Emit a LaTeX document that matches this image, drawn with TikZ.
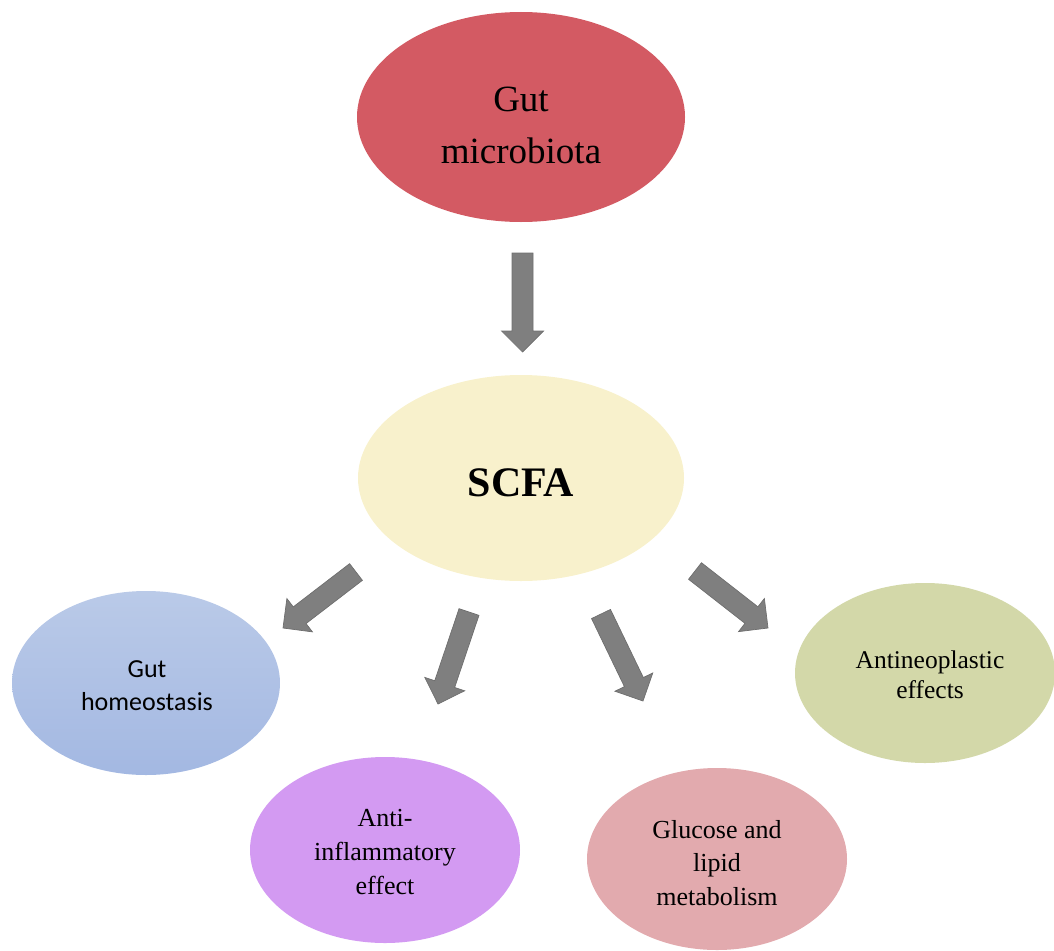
\documentclass[tikz,border=0pt]{standalone}
\usepackage{fontspec}
\setmainfont{Liberation Serif}
\newfontfamily\calibrifont{Carlito}
\usetikzlibrary{shapes.geometric,calc}
\definecolor{gmred}{HTML}{D35A63}
\definecolor{scfayel}{HTML}{F8F1CC}
\definecolor{ghtop}{HTML}{BACAE8}
\definecolor{ghbot}{HTML}{A3B8E2}
\definecolor{aipur}{HTML}{D39AF2}
\definecolor{glpink}{HTML}{E2AAAE}
\definecolor{anolive}{HTML}{D3D8A9}
\definecolor{arrfill}{HTML}{7F7F7F}
\definecolor{arrline}{HTML}{6E6E6E}
\newcommand\blockarr[2]{%
  \coordinate (hb) at ($(#2)!21pt!(#1)$);
  \filldraw[arrowstyle]
    ($(#1)!10.5pt!90:(#2)$) -- ($(hb)!10.5pt!90:(#2)$) -- ($(hb)!21pt!90:(#2)$)
    -- (#2) -- ($(hb)!21pt!-90:(#2)$) -- ($(hb)!10.5pt!-90:(#2)$)
    -- ($(#1)!10.5pt!-90:(#2)$) -- cycle;
}
\begin{document}
\begin{tikzpicture}[x=1pt,y=-1pt,
  ell/.style={ellipse, inner sep=0pt, draw=none},
  lbl/.style={align=center, inner sep=0pt, text=black},
  arrowstyle/.style={fill=arrfill, draw=arrline, line width=0.7pt, line join=miter}]
\useasboundingbox (0,0) rectangle (1054,950);

% ellipses
\node[ell, fill=gmred, minimum width=328pt, minimum height=210pt] (gm) at (521,117) {};
\node[ell, fill=scfayel, minimum width=326pt, minimum height=206pt] (scfa) at (521,478) {};
\node[ell, top color=ghtop, bottom color=ghbot, minimum width=268pt, minimum height=184pt] (gh) at (146,683) {};
\node[ell, fill=aipur, minimum width=270pt, minimum height=186pt] (ai) at (385,850) {};
\node[ell, fill=glpink, minimum width=260pt, minimum height=182pt] (gl) at (717,859) {};
\node[ell, fill=anolive, minimum width=260pt, minimum height=180pt] (an) at (925,673) {};

% labels
\node[lbl, font=\fontsize{37pt}{52pt}\selectfont] (gmt) at (521,125) {Gut\\microbiota};
\node[lbl, font=\fontsize{42pt}{50pt}\selectfont\bfseries] (scfat) at (521,483) {SCFA};
\node[lbl, font=\calibrifont\fontsize{26pt}{33pt}\selectfont] (ght) at (147,686) {Gut\\homeostasis};
\node[lbl, font=\fontsize{26pt}{34pt}\selectfont] (ait) at (385,852) {Anti-\\inflammatory\\effect};
\node[lbl, font=\fontsize{26pt}{33.5pt}\selectfont] (glt) at (717,863) {Glucose and\\lipid\\metabolism};
\node[lbl, font=\fontsize{25.5pt}{30pt}\selectfont] (ant) at (930,675) {Antineoplastic\\effects};

% arrow end points
\coordinate (a1s) at (522.5,253);
\coordinate (a1e) at (522.5,352);
\coordinate (a2s) at (356,572);
\coordinate (a2e) at (283,628);
\coordinate (a3s) at (469,612);
\coordinate (a3e) at (438,704);
\coordinate (a4s) at (601,614);
\coordinate (a4e) at (643,701);
\coordinate (a5s) at (695,571);
\coordinate (a5e) at (768,628);

\blockarr{a1s}{a1e}
\blockarr{a2s}{a2e}
\blockarr{a3s}{a3e}
\blockarr{a4s}{a4e}
\blockarr{a5s}{a5e}
\end{tikzpicture}
\end{document}
